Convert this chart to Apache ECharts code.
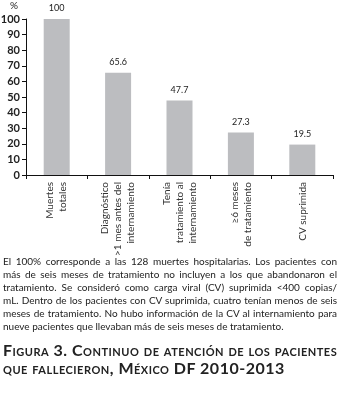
<!DOCTYPE html>
<html>
<head>
<meta charset="utf-8">
<script src="https://cdn.jsdelivr.net/npm/echarts@6/dist/echarts.min.js"></script>
<style>
  body { margin: 0; background: #fff; width: 341px; height: 396px; overflow: hidden; }
  #chart { width: 341px; height: 262px; position: absolute; left: 0; top: 0; }
  .nota {
    position: absolute; left: 3px; top: 255px; width: 334px;
    font-family: Lato, sans-serif; font-size: 10px; line-height: 13.1px;
    color: #222; margin: 0;
  }
  .nota span { display: block; white-space: nowrap; text-align: justify; text-align-last: justify; }
  .nota span.ult { text-align-last: left; }
  .titulo {
    position: absolute; left: 3px; top: 341px; width: 340px; white-space: nowrap;
    font-family: Lato, sans-serif; font-weight: bold; font-size: 16px; line-height: 18px;
    font-variant: small-caps; color: #222; margin: 0; letter-spacing: 0.5px;
  }
</style>
</head>
<body>
<div id="chart"></div>
<p class="nota"><span>El 100% corresponde a las 128 muertes hospitalarias. Los pacientes con</span><span>más de seis meses de tratamiento no incluyen a los que abandonaron el</span><span>tratamiento. Se consideró como carga viral (CV) suprimida &lt;400 copias/</span><span>mL. Dentro de los pacientes con CV suprimida, cuatro tenían menos de seis</span><span>meses de tratamiento. No hubo información de la CV al internamiento para</span><span class="ult">nueve pacientes que llevaban más de seis meses de tratamiento.</span></p>
<p class="titulo">Figura 3. Continuo de atención de los pacientes<br>que fallecieron, México DF 2010-2013</p>
<script>
// datos de la gráfica
var categorias = [
  'Muertes\ntotales',
  'Diagnóstico\n>1 mes antes del\ninternamiento',
  'Tenía\ntratamiento al\ninternamiento',
  '≥6 meses\nde tratamiento',
  'CV suprimida'
];
var porcentajes = [100, 65.6, 47.7, 27.3, 19.5];
var ticksY = [0, 10, 20, 30, 40, 50, 60, 70, 80, 90, 100];

var chart = echarts.init(document.getElementById('chart'), null, { renderer: 'canvas' });

var option = {
  animation: false,
  textStyle: { fontFamily: 'Lato, sans-serif' },
  graphic: [{
    type: 'text',
    left: 10,
    top: 1,
    style: { text: '%', fontSize: 10, fill: '#222', fontFamily: 'Lato, sans-serif' }
  }],
  grid: { left: 26, right: 8, top: 19, bottom: 87, outerBoundsMode: 'none' },
  xAxis: {
    type: 'category',
    data: categorias,
    axisLine: { lineStyle: { color: '#111', width: 1 } },
    axisTick: { show: true, length: 4, lineStyle: { color: '#111' } },
    axisLabel: {
      rotate: 90,
      interval: 0,
      margin: 7,
      fontSize: 10,
      lineHeight: 13,
      color: '#333',
      fontFamily: 'Lato, sans-serif'
    }
  },
  yAxis: {
    type: 'value',
    min: ticksY[0],
    max: ticksY[ticksY.length - 1],
    interval: 10,
    axisLine: { show: true, lineStyle: { color: '#111', width: 1 } },
    axisTick: { show: true, length: 4, lineStyle: { color: '#111' } },
    splitLine: { show: false },
    axisLabel: {
      margin: 6,
      fontSize: 11,
      fontWeight: 'bold',
      color: '#222',
      fontFamily: 'Lato, sans-serif'
    }
  },
  series: [{
    type: 'bar',
    data: porcentajes,
    barWidth: 26,
    itemStyle: { color: '#bcbdc0' },
    label: {
      show: true,
      position: 'top',
      distance: 6,
      fontSize: 9,
      color: '#222',
      fontFamily: 'Lato, sans-serif'
    }
  }]
};

chart.setOption(option);
</script>
</body>
</html>
